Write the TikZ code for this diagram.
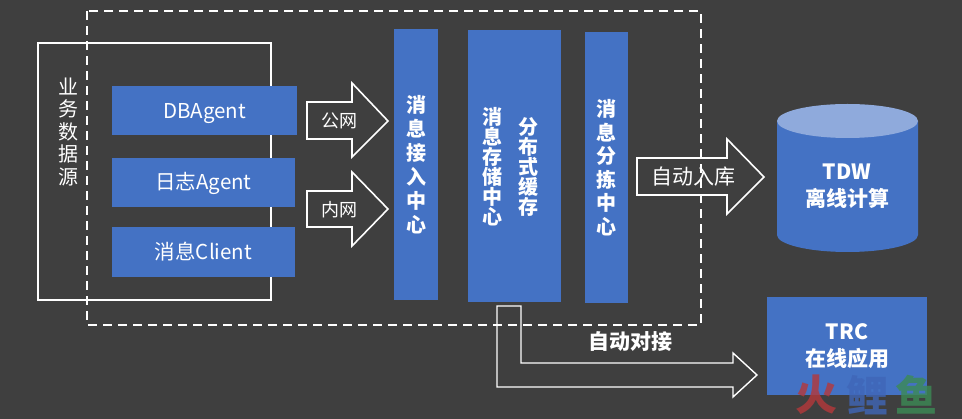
\documentclass[tikz,border=0pt]{standalone}
\usepackage{fontspec}
\usepackage{xcolor}
\setmainfont{Noto Sans CJK SC}
\definecolor{panel}{HTML}{3F3F3F}
\definecolor{boxblue}{HTML}{4472C4}
\definecolor{lidblue}{HTML}{8FAADC}
\definecolor{markred}{HTML}{B5383A}
\definecolor{markblue}{HTML}{3F66B8}
\definecolor{markgreen}{HTML}{3C8A55}
\newcommand{\fsz}[2]{\fontsize{#1}{#2}\selectfont}
\tikzset{
  blue box/.style = {fill=boxblue, text=white, inner sep=0pt, align=center},
  out line/.style = {draw=white, line width=1.6pt, line join=miter},
  logo char/.style = {opacity=.8, font=\bfseries\fsz{42}{42}},
}
\begin{document}
\begin{tikzpicture}[x=1pt, y=-1pt]
    \fill[panel] (0,0) rectangle (962,419);
    \useasboundingbox (0,0) rectangle (962,419);
    % frame of the sources goes under the boxes
    \draw[white, line width=1.6pt] (38,43) rectangle (271,300);
    \node[text=white, font=\fsz{20}{22.5}, align=center] (source) at (68,132) {业\\务\\数\\据\\源};
    \foreach \n\x\y\w\h\s in {db/204.5/111/185/49/DBAgent, log/203.5/182.5/183/49/日志Agent, client/203.5/252/183/50/消息Client} {
      \node[blue box, minimum width=\w pt, minimum height=\h pt, text height=16pt, text depth=1pt, font=\fsz{20.5}{24}] (\n) at (\x,\y) {\s};
    }
    % the three tall boxes
    \node[blue box, minimum width=44pt, minimum height=271pt, font=\bfseries\fsz{20}{24}] (inbox) at (416,164.5) {消\\息\\接\\入\\中\\心};
    \node[blue box, minimum width=93pt, minimum height=272pt] (store) at (514.5,166) {};
    \node[text=white, font=\bfseries\fsz{20}{20}, align=center] (storea) at (492,167) {消\\息\\存\\储\\中\\心};
    \node[text=white, font=\bfseries\fsz{20}{20}, align=center] (storeb) at (528,167) {分\\布\\式\\缓\\存};
    \node[blue box, minimum width=43pt, minimum height=271pt, font=\bfseries\fsz{20}{23.5}] (sort) at (606.5,167.5) {消\\息\\分\\拣\\中\\心};
    \draw[white, line width=1.6pt, dash pattern=on 9pt off 6pt] (87,11) rectangle (701,325);
    % arrows
    \draw[out line] (307,102) -- (352,102) -- (352,83) -- (388,121) -- (352,157) -- (352,139) -- (307,139) -- cycle;
    \node[text=white, font=\fsz{18}{20}] (pub) at (339,121) {公网};
    \draw[out line] (307,191) -- (352,191) -- (352,172) -- (388,209) -- (352,246) -- (352,227) -- (307,227) -- cycle;
    \node[text=white, font=\fsz{18}{20}] (priv) at (339,210) {内网};
    \draw[out line] (637,158) -- (727,158) -- (727,139) -- (764,177) -- (727,214) -- (727,195) -- (637,195) -- cycle;
    \node[text=white, font=\fsz{21}{24}] (auto) at (693,177) {自动入库};
    \draw[out line, line width=1.4pt] (497,306) -- (521,306) -- (521,363) -- (733,363) -- (733,353) -- (757,375) -- (733,397) -- (733,387) -- (497,387) -- cycle;
    \node[text=white, font=\bfseries\fsz{21}{24}] (link) at (630,342) {自动对接};
    % cylinder
    \fill[boxblue] (777,121) -- (777,235) arc[start angle=180, end angle=0, x radius=70.5, y radius=17] -- (918,121) -- cycle;
    \fill[lidblue] (847.5,121) ellipse[x radius=70.5, y radius=17];
    \node[text=white, font=\bfseries\fsz{21}{27}, align=center] (tdw) at (847,186.5) {TDW\\离线计算};
    % online box
    \node[blue box, minimum width=160pt, minimum height=98pt, font=\bfseries\fsz{21}{27}] (trc) at (847,346) {TRC\\在线应用};
    % watermark
    \node[logo char, text=markred] (fire) at (816,395) {火};
    \node[logo char, text=markblue] (carp) at (867,395) {鲤};
    \node[logo char, text=markgreen] (fish) at (916,395) {鱼};
\end{tikzpicture}
\end{document}
